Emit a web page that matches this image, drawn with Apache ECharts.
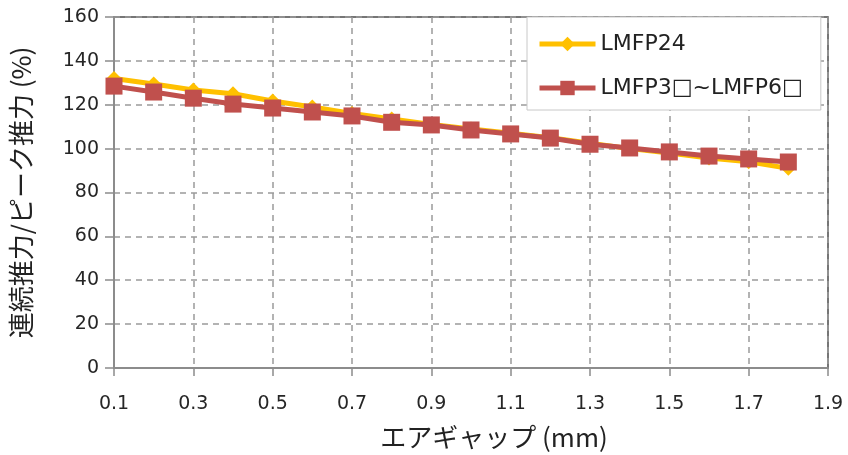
<!DOCTYPE html>
<html>
<head>
<meta charset="utf-8">
<script src="https://cdn.jsdelivr.net/npm/echarts@6/dist/echarts.min.js"></script>
<style>
  html, body { margin: 0; padding: 0; background: #fff; }
  #chart { width: 848px; height: 455px; }
</style>
</head>
<body>
<div id="chart"></div>
<script>
// Air gap (mm) categories along the x axis
const gapLabels = ['0.1','0.2','0.3','0.4','0.5','0.6','0.7','0.8','0.9','1.0',
                   '1.1','1.2','1.3','1.4','1.5','1.6','1.7','1.8','1.9'];

// Continuous / peak thrust ratio (%) per air gap
const lmfp24 = [132, 129.5, 126.7, 125, 121.7, 119, 116, 113.5, 111, 109,
                107, 105, 102.5, 100, 98, 95.7, 94, 91];
const lmfp3to6 = [128.5, 125.8, 123, 120.3, 118.5, 116.7, 114.9, 112, 110.8, 108.5,
                  106.7, 104.8, 102, 100.3, 98.5, 96.6, 95.3, 93.9];

const seriesNames = ['LMFP24', 'LMFP3□~LMFP6□'];

const latin = '"DejaVu Sans", "Noto Sans CJK JP", sans-serif';
const jp = '"Noto Sans CJK JP", "DejaVu Sans", sans-serif';

const chart = echarts.init(document.getElementById('chart'), null, { renderer: 'canvas' });

chart.setOption({
  animation: false,
  backgroundColor: '#ffffff',
  grid: {
    left: 114, right: 20, top: 17, bottom: 87,
    show: true, borderColor: '#4a4a4a', borderWidth: 1.5, backgroundColor: '#ffffff'
  },
  legend: {
    orient: 'vertical',
    left: 527, top: 17,
    padding: [16, 18, 11, 10],
    itemWidth: 56, itemHeight: 18, itemGap: 22,
    backgroundColor: '#ffffff',
    borderColor: '#c8c8c8', borderWidth: 1,
    lineStyle: { width: 5 },
    textStyle: { fontFamily: latin, fontSize: 22, color: '#222' },
    data: seriesNames
  },
  xAxis: {
    type: 'category',
    data: gapLabels,
    boundaryGap: false,
    name: 'エアギャップ (mm)',
    nameLocation: 'middle',
    nameGap: 56,
    nameTextStyle: { fontFamily: jp, fontSize: 26, color: '#222', padding: [0, 0, 0, 46] },
    axisLine: { lineStyle: { color: '#8c8c8c', width: 2 } },
    axisTick: { show: true, interval: 1, length: 8, lineStyle: { color: '#8c8c8c', width: 1.5 } },
    axisLabel: { interval: 1, margin: 27, fontFamily: latin, fontSize: 19, color: '#262626' },
    splitLine: { show: true, interval: 1, lineStyle: { color: '#9a9a9a', width: 1.5, type: [6, 5] } }
  },
  yAxis: {
    type: 'value',
    min: 0, max: 160, interval: 20,
    name: '連続推力/ピーク推力 (%)',
    nameLocation: 'middle',
    nameGap: 80,
    nameTextStyle: { fontFamily: jp, fontSize: 26, color: '#222' },
    axisLine: { show: true, lineStyle: { color: '#8c8c8c', width: 2 } },
    axisTick: { show: true, length: 9, lineStyle: { color: '#8c8c8c', width: 1.5 } },
    axisLabel: { margin: 15, fontFamily: latin, fontSize: 19, color: '#262626' },
    splitLine: { show: true, lineStyle: { color: '#9a9a9a', width: 1.5, type: [6, 5] } }
  },
  series: [
    {
      name: seriesNames[0],
      type: 'line',
      data: lmfp24,
      symbol: 'diamond',
      symbolSize: 15,
      itemStyle: { color: '#FFC000' },
      lineStyle: { color: '#FFC000', width: 5 },
      z: 2
    },
    {
      name: seriesNames[1],
      type: 'line',
      data: lmfp3to6,
      symbol: 'rect',
      symbolSize: 17,
      itemStyle: { color: '#C0504D' },
      lineStyle: { color: '#C0504D', width: 5 },
      z: 3
    }
  ]
});
</script>
</body>
</html>
